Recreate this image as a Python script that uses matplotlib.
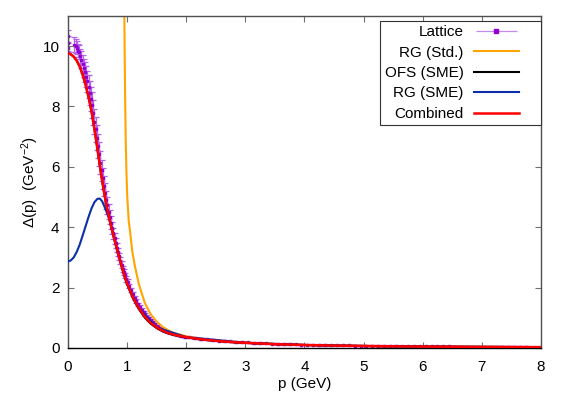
import matplotlib
matplotlib.use("Agg")
import matplotlib.pyplot as plt
from matplotlib.container import ErrorbarContainer
from matplotlib.legend_handler import HandlerErrorbar

plt.rcParams.update({
    "font.family": ["Liberation Sans", "DejaVu Sans"],
    "font.size": 11,
    "mathtext.default": "regular",
})

# ---------- data ----------

# lattice points: momentum, value, error
lat_p = [0.000, 0.004, 0.008, 0.100, 0.130, 0.150, 0.170, 0.190, 0.210, 0.230,
         0.250, 0.270, 0.290, 0.310, 0.330, 0.350, 0.370, 0.390, 0.410, 0.430,
         0.450, 0.470, 0.490, 0.510, 0.530, 0.550, 0.570, 0.590, 0.610, 0.630,
         0.650, 0.670, 0.690, 0.710, 0.730, 0.750, 0.770, 0.790, 0.810, 0.830,
         0.850, 0.870, 0.890, 0.910, 0.930, 0.950, 0.970, 0.990, 1.010, 1.040,
         1.070, 1.100, 1.130, 1.160, 1.190, 1.220, 1.250, 1.280, 1.310, 1.340,
         1.370, 1.400, 1.440, 1.480, 1.520, 1.560, 1.600, 1.650, 1.700, 1.750,
         1.800, 1.860, 1.920, 1.980,
         2.05, 2.15, 2.25, 2.35, 2.45, 2.55, 2.65, 2.75, 2.85, 2.95,
         3.05, 3.15, 3.25, 3.35, 3.45, 3.55, 3.65, 3.75, 3.85, 3.95,
         4.05, 4.15, 4.25, 4.35, 4.45, 4.55, 4.65, 4.75, 4.85, 4.95,
         5.05, 5.15, 5.25, 5.35, 5.45, 5.55, 5.65, 5.75, 5.85, 5.95,
         6.05, 6.15, 6.25, 6.35, 6.45, 6.55, 6.65, 6.75, 6.85, 6.95,
         7.05, 7.15, 7.25, 7.35, 7.45, 7.55, 7.65, 7.75]
lat_v = [10.10, 10.35, 9.95, 10.05, 10.00, 9.95, 9.85, 9.80, 9.66, 9.55,
         9.42, 9.28, 9.14, 8.99, 8.83, 8.65, 8.46, 8.26, 8.05, 7.80,
         7.50, 7.24, 6.97, 6.70, 6.42, 6.14, 5.88, 5.62, 5.37, 5.13,
         4.91, 4.72, 4.52, 4.33, 4.15, 3.97, 3.80, 3.63, 3.47, 3.32,
         3.17, 3.03, 2.89, 2.76, 2.63, 2.51, 2.40, 2.29, 2.19, 2.05,
         1.91, 1.78, 1.66, 1.55, 1.45, 1.36, 1.27, 1.19, 1.11, 1.04,
         0.98, 0.92, 0.85, 0.78, 0.72, 0.67, 0.62, 0.57, 0.53, 0.49,
         0.46, 0.43, 0.40, 0.375,
         0.350, 0.325, 0.300, 0.280, 0.262, 0.245, 0.230, 0.215, 0.202, 0.190,
         0.180, 0.170, 0.161, 0.152, 0.144, 0.137, 0.130, 0.124, 0.118, 0.113,
         0.108, 0.103, 0.099, 0.095, 0.091, 0.087, 0.084, 0.081, 0.078, 0.075,
         0.073, 0.070, 0.068, 0.066, 0.064, 0.062, 0.060, 0.058, 0.056, 0.055,
         0.053, 0.052, 0.050, 0.049, 0.048, 0.046, 0.045, 0.044, 0.043, 0.042,
         0.041, 0.040, 0.039, 0.038, 0.037, 0.036, 0.036, 0.035]
lat_err = [0.25, 0.20, 0.15, 0.25, 0.22, 0.22, 0.22, 0.24, 0.26, 0.28,
           0.30, 0.30, 0.32, 0.34, 0.36, 0.38, 0.40, 0.40, 0.42, 0.42,
           0.42, 0.42, 0.42, 0.40, 0.40, 0.38, 0.36, 0.35, 0.34, 0.32,
           0.30, 0.28, 0.26, 0.24, 0.22, 0.20, 0.18, 0.17, 0.16, 0.15,
           0.14, 0.13, 0.12, 0.11, 0.10, 0.10, 0.09, 0.09, 0.08, 0.08,
           0.07, 0.07, 0.06, 0.06, 0.05, 0.05, 0.05, 0.04, 0.04, 0.04,
           0.04, 0.03, 0.03, 0.03, 0.03, 0.03, 0.03, 0.03, 0.03, 0.03,
           0.03, 0.03, 0.03, 0.03,
           0.025, 0.025, 0.025, 0.025, 0.025, 0.025, 0.025, 0.025, 0.025, 0.025,
           0.025, 0.025, 0.025, 0.025, 0.025, 0.025, 0.025, 0.025, 0.025, 0.025,
           0.02, 0.02, 0.02, 0.02, 0.02, 0.02, 0.02, 0.02, 0.02, 0.02,
           0.02, 0.02, 0.02, 0.02, 0.02, 0.02, 0.02, 0.02, 0.02, 0.02,
           0.02, 0.02, 0.02, 0.02, 0.02, 0.02, 0.02, 0.02, 0.02, 0.02,
           0.02, 0.02, 0.02, 0.02, 0.02, 0.02, 0.02, 0.02]

# RG (Std.) - Landau pole just below 1 GeV
rg_std_p = [0.952, 0.956, 0.960, 0.968, 0.978, 0.990, 1.005, 1.030, 1.050, 1.090,
            1.130, 1.200, 1.300, 1.400, 1.500, 1.600, 1.700, 1.800, 2.000, 2.200,
            2.500, 3.000, 3.500, 4.000, 5.000, 6.000, 7.000, 8.000]
rg_std_v = [12.0, 11.0, 10.0, 8.5, 7.0, 5.9, 5.0, 4.2, 3.9, 3.2,
            2.75, 2.12, 1.50, 1.12, 0.88, 0.70, 0.58, 0.49, 0.385, 0.315,
            0.25, 0.175, 0.128, 0.099, 0.065, 0.046, 0.035, 0.028]

# Combined curve
comb_p = [0.00, 0.05, 0.10, 0.15, 0.20, 0.25, 0.30, 0.35, 0.40, 0.45,
          0.50, 0.55, 0.60, 0.65, 0.70, 0.75, 0.80, 0.85, 0.90, 0.95,
          1.00, 1.10, 1.20, 1.30, 1.40, 1.50, 1.60, 1.70, 1.80, 1.90,
          2.00, 2.20, 2.40, 2.60, 2.80, 3.00, 3.50, 4.00, 4.50, 5.00,
          5.50, 6.00, 6.50, 7.00, 7.50, 8.00]
comb_v = [9.76, 9.73, 9.65, 9.52, 9.33, 9.06, 8.72, 8.32, 7.84, 7.25,
          6.60, 5.92, 5.30, 4.75, 4.30, 3.88, 3.50, 3.13, 2.78, 2.44,
          2.14, 1.68, 1.32, 1.04, 0.83, 0.68, 0.57, 0.49, 0.435, 0.395,
          0.36, 0.30, 0.255, 0.22, 0.19, 0.17, 0.125, 0.097, 0.078, 0.064,
          0.053, 0.045, 0.039, 0.034, 0.030, 0.027]

# OFS (SME): just under the combined curve
ofs_p = comb_p
ofs_v = [9.76, 9.73, 9.65, 9.52, 9.33, 9.06, 8.72, 8.32, 7.84, 7.25,
         6.60, 5.92, 5.30, 4.75, 4.30, 3.88, 3.50, 3.12, 2.77, 2.42,
         2.12, 1.65, 1.29, 1.01, 0.805, 0.66, 0.552, 0.476, 0.424, 0.386,
         0.352, 0.294, 0.251, 0.217, 0.188, 0.168, 0.124, 0.097, 0.078, 0.064,
         0.053, 0.045, 0.039, 0.034, 0.030, 0.027]

# RG (SME): bump at low momentum, then joins the combined curve
rg_sme_p = [0.00, 0.05, 0.10, 0.15, 0.20, 0.25, 0.30, 0.35, 0.40, 0.45,
            0.50, 0.54, 0.58, 0.62, 0.66, 0.70, 0.75, 0.80, 0.90, 1.00,
            1.20, 1.50, 2.00, 3.00, 4.00, 5.00, 6.00, 7.00, 8.00]
rg_sme_v = [2.86, 2.90, 3.00, 3.18, 3.42, 3.72, 4.03, 4.34, 4.62, 4.83,
            4.94, 4.95, 4.86, 4.68, 4.48, 4.27, 3.88, 3.50, 2.78, 2.14,
            1.32, 0.68, 0.36, 0.17, 0.097, 0.064, 0.045, 0.034, 0.027]

# ---------- plot ----------

fig = plt.figure(figsize=(5.70, 3.99), dpi=100)
ax = fig.add_axes([0.119, 0.128, 0.830, 0.832])

ax.errorbar(lat_p, lat_v, yerr=lat_err, fmt="s", ms=2.0, color="#9400d3",
            ecolor="#b463ea", elinewidth=0.9, capsize=2.0, capthick=0.9,
            zorder=1, label="_nolegend_")
lat_proxy = ax.errorbar([], [], xerr=[], fmt="s", ms=2.2, color="#9400d3",
                        ecolor="#c58af0", elinewidth=0.9, capsize=2.5,
                        capthick=0.9, label="Lattice")
l_std, = ax.plot(rg_std_p, rg_std_v, color="#ffa500", lw=1.5, zorder=2,
                 label="RG (Std.)")
l_ofs, = ax.plot(ofs_p, ofs_v, color="black", lw=1.5, zorder=3, label="OFS (SME)")
l_sme, = ax.plot(rg_sme_p, rg_sme_v, color="#0a2fa8", lw=1.5, zorder=4,
                 label="RG (SME)")
l_comb, = ax.plot(comb_p, comb_v, color="#ff0000", lw=1.8, zorder=5,
                  label="Combined")

ax.set_xlim(0, 8)
ax.set_ylim(0, 11)
ax.set_xticks(range(0, 9))
ax.set_yticks(range(0, 11, 2))
ax.tick_params(direction="in", length=4, width=0.8, color="#707070",
               top=True, right=True, labelsize=11, pad=6)
ax.tick_params(axis="x", pad=9)
for s in ax.spines.values():
    s.set_color("#505050")
    s.set_linewidth(1.0)
ax.spines["bottom"].set_color("black")

ax.set_xlabel("p (GeV)", fontsize=11, labelpad=2)
ax.set_ylabel("Δ(p)  (GeV$^{-2}$)", fontsize=11, labelpad=1)

leg = ax.legend([lat_proxy, l_std, l_ofs, l_sme, l_comb],
                ["Lattice", "RG (Std.)", "OFS (SME)", "RG (SME)", "Combined"],
                loc="upper right", bbox_to_anchor=(0.660, 0.5, 0.340, 0.486),
                mode="expand", markerfirst=False, fancybox=False,
                framealpha=1, edgecolor="#333333", handlelength=2.9,
                handletextpad=0.7, labelspacing=0.42, borderpad=0.3,
                borderaxespad=0,
                handler_map={ErrorbarContainer: HandlerErrorbar(xerr_size=1.35)})
leg.get_frame().set_linewidth(0.8)
for col in leg._legend_handle_box.get_children():
    col.align = "right"

fig.savefig("out.png", dpi=100)
